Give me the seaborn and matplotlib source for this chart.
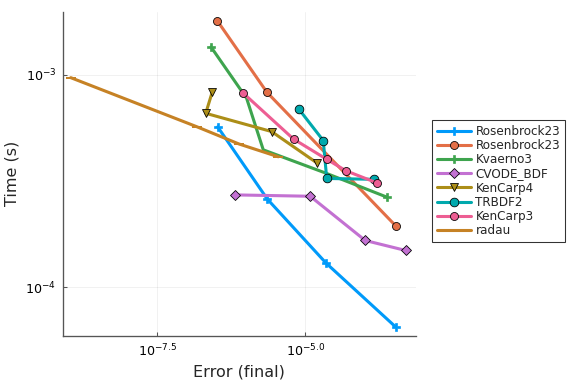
import numpy as np
import pandas as pd
import matplotlib
matplotlib.use("Agg")
import matplotlib.pyplot as plt
import matplotlib.ticker as mticker
import seaborn as sns

sns.set_theme(style="ticks")
plt.rcParams["font.family"] = ["DejaVu Sans"]

# 에러 / 시간 데이터
names = ["Rosenbrock23", "Rosenbrock23", "Kvaerno3", "CVODE_BDF",
         "KenCarp4", "TRBDF2", "KenCarp3", "radau"]

ros_blue_err = [3.31e-7, 2.28e-6, 2.24e-5, 3.40e-4]
ros_blue_time = [5.68e-4, 2.60e-4, 1.30e-4, 6.49e-5]

ros_orange_err = [3.27e-7, 2.25e-6, 3.40e-4]
ros_orange_time = [1.79e-3, 8.26e-4, 1.94e-4]

kvaerno3_err = [2.55e-7, 1.02e-6, 1.95e-6, 2.24e-5, 2.43e-4]
kvaerno3_time = [1.35e-3, 7.74e-4, 4.43e-4, 3.44e-4, 2.65e-4]

cvode_err = [6.50e-7, 1.21e-5, 1.03e-4, 4.97e-4]
cvode_time = [2.72e-4, 2.68e-4, 1.66e-4, 1.49e-4]

kencarp4_err = [2.69e-7, 2.08e-7, 2.70e-6, 1.56e-5]
kencarp4_time = [8.32e-4, 6.58e-4, 5.40e-4, 3.85e-4]

trbdf2_err = [7.83e-6, 2.01e-5, 2.30e-5, 1.45e-4]
trbdf2_time = [6.87e-4, 4.90e-4, 3.25e-4, 3.22e-4]

kencarp3_err = [8.97e-7, 6.32e-6, 2.30e-5, 4.88e-5, 1.61e-4]
kencarp3_time = [8.18e-4, 4.98e-4, 4.00e-4, 3.53e-4, 3.10e-4]

radau_err = [1.09e-9, 1.47e-7, 7.59e-7, 3.50e-6]
radau_time = [9.68e-4, 5.69e-4, 4.72e-4, 4.11e-4]

all_err = [ros_blue_err, ros_orange_err, kvaerno3_err, cvode_err,
           kencarp4_err, trbdf2_err, kencarp3_err, radau_err]
all_time = [ros_blue_time, ros_orange_time, kvaerno3_time, cvode_time,
            kencarp4_time, trbdf2_time, kencarp3_time, radau_time]

colors = ["#009AFA", "#E36F47", "#3EA44E", "#C371D2",
          "#AC8E18", "#00A9AD", "#ED5E93", "#C68225"]
markers = ["P", "o", "P", "D", "v", "o", "o", "_"]
msizes = [6.5, 6, 6.5, 5, 6.5, 6.5, 6, 8]

fig = plt.figure(figsize=(6, 4), dpi=96)
ax = fig.add_axes([0.1089, 0.125, 0.6128, 0.8445])

for i in range(len(names)):
    df = pd.DataFrame({"err": all_err[i], "time": all_time[i]})
    if markers[i] in ["P", "_"]:
        mec = colors[i]
        mew = 1.5 if markers[i] == "_" else 0.5
    else:
        mec = "black"
        mew = 0.6
    # Kvaerno3: 중간 마커는 그림에 안 보임
    mevery = [0, len(df) - 1] if names[i] == "Kvaerno3" else None
    sns.lineplot(data=df, x="err", y="time", ax=ax, sort=False,
                 color=colors[i], lw=2.3, marker=markers[i],
                 markersize=msizes[i], markeredgecolor=mec,
                 markeredgewidth=mew, markevery=mevery,
                 label=names[i], zorder=2 + i)

ax.set_xscale("log")
ax.set_yscale("log")
ax.set_xlim(10 ** -9.098, 10 ** -3.135)
ax.set_ylim(10 ** -4.229, 10 ** -2.704)

ax.xaxis.set_major_locator(mticker.FixedLocator([10 ** -7.5, 10 ** -5.0]))
ax.xaxis.set_major_formatter(mticker.FixedFormatter([r"$10^{-7.5}$", r"$10^{-5.0}$"]))
ax.xaxis.set_minor_locator(mticker.NullLocator())
ax.yaxis.set_major_locator(mticker.FixedLocator([1e-4, 1e-3]))
ax.yaxis.set_major_formatter(mticker.FixedFormatter([r"$10^{-4}$", r"$10^{-3}$"]))
ax.yaxis.set_minor_locator(mticker.NullLocator())

ax.grid(True, color="#000000", alpha=0.07, lw=0.6)
ax.set_axisbelow(True)
ax.tick_params(direction="in", length=3, width=0.8, color="#555555",
               labelsize=9.5, labelcolor="black", pad=5)
for s in ["top", "right"]:
    ax.spines[s].set_visible(False)
for s in ["left", "bottom"]:
    ax.spines[s].set_color("#555555")
    ax.spines[s].set_linewidth(1.0)

ax.set_xlabel("Error (final)", fontsize=12)
ax.set_ylabel("Time (s)", fontsize=12)

leg = ax.legend(loc="upper left", bbox_to_anchor=(0.7505, 0.6875),
                bbox_transform=fig.transFigure, fontsize=9.0, frameon=True,
                fancybox=False, borderpad=0.4, labelspacing=0.1,
                handlelength=2.8, handletextpad=0.4, borderaxespad=0)
leg.get_frame().set_edgecolor("black")
leg.get_frame().set_linewidth(0.8)

fig.savefig("out.png", dpi=96)
